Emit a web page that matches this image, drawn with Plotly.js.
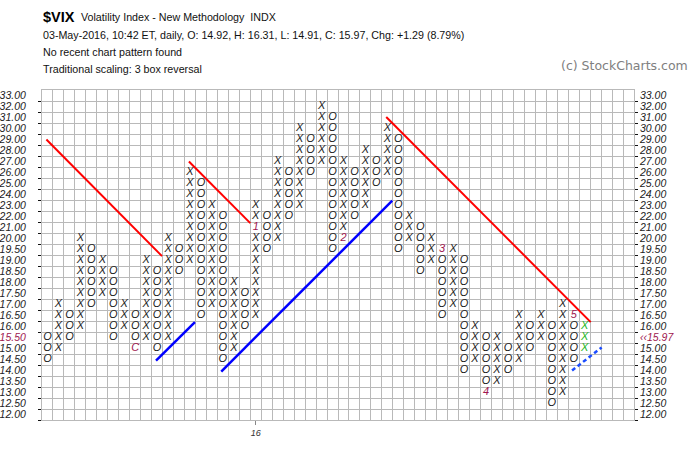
<!DOCTYPE html>
<html>
<head>
<meta charset="utf-8">
<script src="https://cdn.plot.ly/plotly-3.0.1.min.js"></script>
<style>
  html, body { margin:0; padding:0; background:#fff; }
  #chart { width:700px; height:453px; }
</style>
</head>
<body>
<div id="chart"></div>
<script>
// ---- Box rows (price levels, top to bottom) ----
const rowPrices = [33,32,31,30,29,28,27,26,25,24,23,22,21,20,19.5,19,18.5,18,17.5,17,16.5,16,15.5,15,14.5,14,13.5,13,12.5,12];
const rowLabels = ["33.00","32.00","31.00","30.00","29.00","28.00","27.00","26.00","25.00","24.00","23.00","22.00","21.00","20.00","19.50","19.00","18.50","18.00","17.50","17.00","16.50","16.00","15.50","15.00","14.50","14.00","13.50","13.00","12.50","12.00"];

// ---- P&F columns ----
const colType = ["O","X","O","X","O","X","O","X","O","X","O","X","O","X","O","X","O","X","O","X","O","X","O","X","O","X","O","X","O","X","O","X","O","X","O","X","O","X","O","X","O","X","O","X","O","X","O","X","O","X"];
const colHigh = [15.5,17,16.5,20,19.5,19,18.5,17,16.5,19,18.5,20,19.5,26,25,23,22,18,17.5,23,22,27,26,30,29,32,31,27,26,28,27,30,29,22,21,20,19.5,19.5,19,16,15.5,15.5,15,16.5,16,16.5,16,17,16.5,16];
const colLow  = [14.5,15,15.5,16,17,17.5,15.5,16,15,15.5,15,15.5,18.5,19,16.5,17,14.5,15,16,16.5,19.5,20,22,23,26,27,19.5,20,22,23,25,26,19.5,20,18.5,19,16.5,17,14,14.5,13,13.5,14,14.5,15,15.5,12.5,13,14.5,15];

// ---- Month markers (replace a box) ----
const monthCol   = [8, 19, 27, 36, 40, 48];
const monthPrice = [15, 21, 20, 19.5, 13, 16.5];
const monthLabel = ["C","1","2","3","4","5"];

// ---- Year marker ----
const yearCol = [19];
const yearLabel = ["16"];

// ---- Last price ----
const lastPrice = "15.97";
const lastPriceRow = 15.5;

// ---- Trend lines (column index, box row index) ----
const redLineCols  = [[-0.1, 10.45], [12.9, 18.5], [30.9, 49.55]];
const redLineRows  = [[4.0, 14.6], [6.0, 11.6], [1.95, 20.6]];
const blueLineCols = [[9.9, 13.45], [15.85, 31.45]];
const blueLineRows = [[24.1, 20.6], [25.1, 9.55]];
const blueDashCols = [47.85, 50.55];
const blueDashRows = [25.0, 22.9];

// ---- build boxes ----
const rowOf = p => rowPrices.indexOf(p);
const lastCol = colType.length - 1;
const xs = {X:[], O:[], G:[]}, ys = {X:[], O:[], G:[]};
for (let c = 0; c < colType.length; c++) {
  const r0 = rowOf(colHigh[c]), r1 = rowOf(colLow[c]);
  for (let r = r0; r <= r1; r++) {
    const isMonth = monthCol.some((mc, i) => mc === c && rowOf(monthPrice[i]) === r);
    if (isMonth) continue;
    const key = (c === lastCol) ? "G" : colType[c];
    xs[key].push(c); ys[key].push(r);
  }
}

const boxFont = {family:"Liberation Sans, Arial, sans-serif", size:11, style:"italic", color:"#222"};
const traces = [];
traces.push({type:"scatter", mode:"text", x:xs.X, y:ys.X, text:xs.X.map(()=>"X"), textposition:"middle center", textfont:boxFont, hoverinfo:"skip", cliponaxis:false});
traces.push({type:"scatter", mode:"text", x:xs.O, y:ys.O, text:xs.O.map(()=>"O"), textposition:"middle center", textfont:boxFont, hoverinfo:"skip", cliponaxis:false});
traces.push({type:"scatter", mode:"text", x:xs.G, y:ys.G, text:xs.G.map(()=>"X"), textposition:"middle center", textfont:Object.assign({}, boxFont, {color:"#22b522"}), hoverinfo:"skip", yaxis:"y2"});
traces.push({type:"scatter", mode:"text", x:monthCol, y:monthPrice.map(rowOf), text:monthLabel, textposition:"middle center", textfont:Object.assign({}, boxFont, {color:"#a0174f"}), hoverinfo:"skip"});

redLineCols.forEach((xc, i) => traces.push({type:"scatter", mode:"lines", x:xc, y:redLineRows[i], line:{color:"#ff0000", width:2}, hoverinfo:"skip"}));
blueLineCols.forEach((xc, i) => traces.push({type:"scatter", mode:"lines", x:xc, y:blueLineRows[i], line:{color:"#0000ff", width:2.5}, hoverinfo:"skip"}));
traces.push({type:"scatter", mode:"lines", x:blueDashCols, y:blueDashRows, line:{color:"#1a4cff", width:2.5, dash:"4px,3px"}, hoverinfo:"skip"});

// ---- axes labels ----
const maroon = "#a0174f";
const leftText = rowLabels.map((l, i) => rowPrices[i] === lastPriceRow ? '<span style="color:' + maroon + '">' + l + '</span>' : l);
const rightText = rowLabels.map((l, i) => rowPrices[i] === lastPriceRow ? '<span style="color:' + maroon + '">‹‹' + lastPrice + '</span>' : l);
const rowIdx = rowPrices.map((_, i) => i);
const rowBounds = []; for (let i = 0; i <= rowPrices.length; i++) rowBounds.push(i - 0.5);
const nCols = 54;
const colBounds = []; for (let i = 0; i <= nCols; i++) colBounds.push(i - 0.5);

const tickFont = {family:"Liberation Sans, Arial, sans-serif", size:10.5, style:"italic", color:"#222"};
const gridCol = "#b9b9b9";

const L = 42, R = 634, T = 90, B = 420;
const px = x => (x - L) / (R - L);
const py = y => (B - y) / (B - T);
const hdrFont = {family:"Liberation Sans, Arial, sans-serif", size:10.7, color:"#111"};

const layout = {
  width:700, height:453,
  margin:{l:L, r:700-R, t:T, b:453-B, pad:0},
  paper_bgcolor:"#fff", plot_bgcolor:"#fff",
  showlegend:false,
  xaxis:{range:[-0.5, nCols-0.5], zeroline:false, showgrid:false, showline:true, mirror:true, linecolor:gridCol, linewidth:1,
    tickmode:"array", tickvals:yearCol, ticktext:yearLabel, ticks:"outside", ticklen:4, tickcolor:"#888", tickwidth:1,
    tickfont:{family:"Liberation Sans, Arial, sans-serif", size:9, style:"italic", color:"#333"},
    minor:{tickmode:"array", tickvals:colBounds, showgrid:true, gridcolor:gridCol, gridwidth:1, ticks:""},
    fixedrange:true},
  yaxis:{range:[29.5, -0.5], zeroline:false, showgrid:false, showline:true, mirror:true, linecolor:gridCol, linewidth:1,
    tickmode:"array", tickvals:rowIdx, ticktext:leftText, ticks:"", ticklabelstandoff:13, tickfont:tickFont,
    minor:{tickmode:"array", tickvals:rowBounds.slice(1), showgrid:true, gridcolor:gridCol, gridwidth:1, ticks:"outside", ticklen:3, tickcolor:"#111", tickwidth:1},
    fixedrange:true},
  yaxis2:{overlaying:"y", side:"right", range:[29.5, -0.5], zeroline:false, showgrid:false, showline:false,
    tickmode:"array", tickvals:rowIdx, ticktext:rightText, ticks:"", ticklabelstandoff:5, tickfont:tickFont,
    minor:{tickmode:"array", tickvals:rowBounds.slice(1), showgrid:false, ticks:"outside", ticklen:3, tickcolor:"#111", tickwidth:1},
    fixedrange:true},
  annotations:[
    {xref:"paper", yref:"paper", x:px(41), y:py(17), xanchor:"left", yanchor:"middle", showarrow:false,
     text:"<b>$VIX</b>", font:{family:"Liberation Sans, Arial, sans-serif", size:14.5, color:"#000"}},
    {xref:"paper", yref:"paper", x:px(79), y:py(17), xanchor:"left", yanchor:"middle", showarrow:false,
     text:"Volatility Index - New Methodology\u00a0\u00a0INDX", font:hdrFont},
    {xref:"paper", yref:"paper", x:px(41), y:py(35), xanchor:"left", yanchor:"middle", showarrow:false,
     text:"03-May-2016, 10:42 ET, daily, O: 14.92, H: 16.31, L: 14.91, C: 15.97, Chg: +1.29 (8.79%)", font:hdrFont},
    {xref:"paper", yref:"paper", x:px(41), y:py(52), xanchor:"left", yanchor:"middle", showarrow:false,
     text:"No recent chart pattern found", font:hdrFont},
    {xref:"paper", yref:"paper", x:px(41), y:py(69), xanchor:"left", yanchor:"middle", showarrow:false,
     text:"Traditional scaling: 3 box reversal", font:hdrFont},
    {xref:"paper", yref:"paper", x:px(690), y:py(65), xanchor:"right", yanchor:"middle", showarrow:false,
     text:"(c) StockCharts.com", font:{family:"DejaVu Sans, Verdana, sans-serif", size:12.5, color:"#808080"}}
  ]
};

Plotly.newPlot("chart", traces, layout, {staticPlot:true, displayModeBar:false});
</script>
</body>
</html>
